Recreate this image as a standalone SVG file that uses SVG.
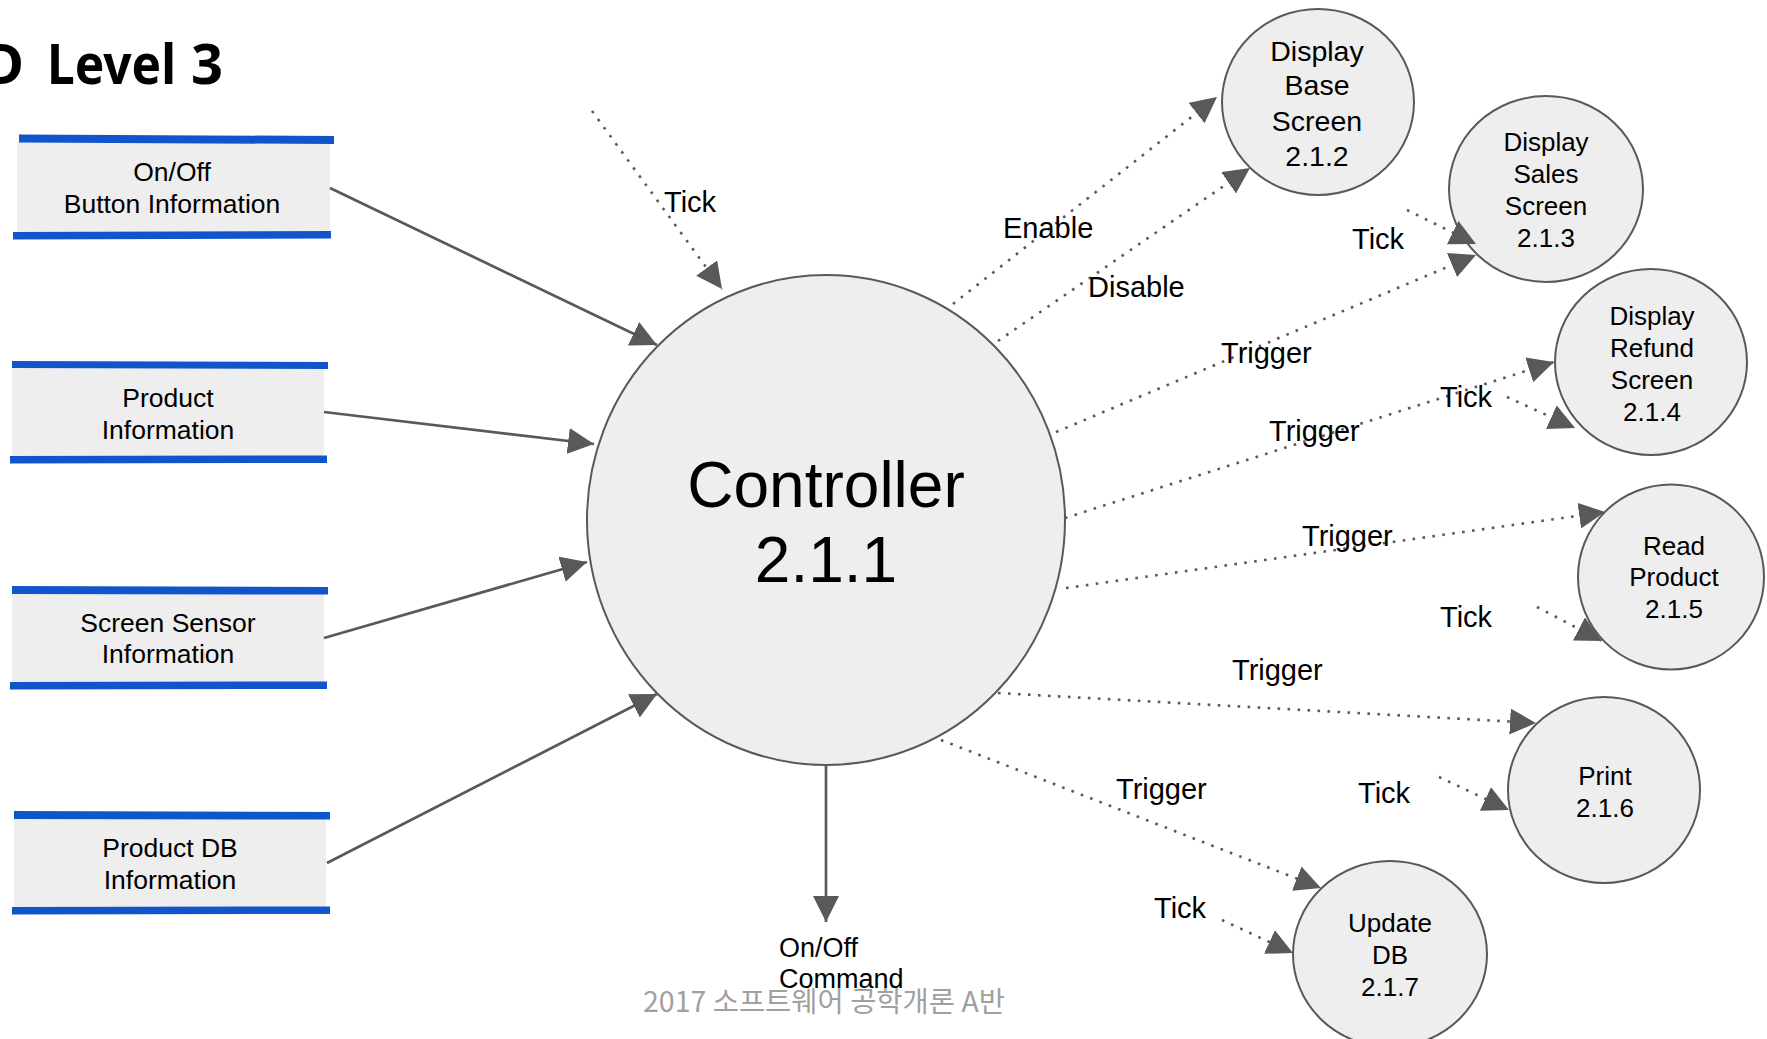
<svg xmlns="http://www.w3.org/2000/svg" width="1767" height="1039" viewBox="0 0 1767 1039">
<style>
text{font-family:"Liberation Sans",Arial,sans-serif;fill:#000}
.title{font-family:"Noto Sans","Noto Sans CJK KR",sans-serif;font-weight:bold;font-size:56px}
.box{fill:#eeeeee}
.bar{fill:#1155cc}
.proc{fill:#eeeeee;stroke:#595959;stroke-width:2}
.mid{text-anchor:middle}
.bt{font-size:26.5px}
.ct{font-size:26px}
.lbl{font-size:29px}
.solid{stroke:#595959;stroke-width:2.7;fill:none}
.dot{stroke:#595959;stroke-width:2.6;fill:none;stroke-dasharray:2.6 7.4}
.foot{font-family:"Noto Sans CJK KR","Liberation Sans",sans-serif;font-size:28.5px;fill:#a0a0a0}
</style>
<defs>
<marker id="ah" markerUnits="userSpaceOnUse" markerWidth="27" markerHeight="27" refX="26" refY="13" orient="auto">
<path d="M0,0 L26,13 L0,26 Z" fill="#595959"/>
</marker>
</defs>
<rect width="1767" height="1039" fill="#ffffff"/>

<g id="title">
<text class="title" x="-17" y="84">D</text>
<text class="title" x="47" y="84" textLength="129" lengthAdjust="spacingAndGlyphs">Level</text>
<text class="title" x="191" y="84">3</text>
</g>

<g id="onoff-button-info">
<rect class="box" x="17" y="142" width="313" height="90"/>
<polygon class="bar" points="19,134.5 334,136 334,144 19,142.5"/>
<polygon class="bar" points="13,232 331,231 331,238.5 13,239.5"/>
<text class="bt mid" x="172" y="181">On/Off</text>
<text class="bt mid" x="172" y="213">Button Information</text>
</g>

<g id="product-info">
<rect class="box" x="12" y="368" width="312" height="88"/>
<polygon class="bar" points="12,361 328,362 328,369 12,368"/>
<polygon class="bar" points="10,456 327,455.5 327,463 10,463.5"/>
<text class="bt mid" x="168" y="407">Product</text>
<text class="bt mid" x="168" y="439">Information</text>
</g>

<g id="screen-sensor-info">
<rect class="box" x="12" y="594" width="312" height="88"/>
<polygon class="bar" points="12,586 328,587 328,594.5 12,594"/>
<polygon class="bar" points="10,682 327,681.5 327,689 10,689.5"/>
<text class="bt mid" x="168" y="632">Screen Sensor</text>
<text class="bt mid" x="168" y="663">Information</text>
</g>

<g id="product-db-info">
<rect class="box" x="14" y="819" width="312" height="88"/>
<polygon class="bar" points="14,811 330,812 330,819.5 14,819"/>
<polygon class="bar" points="12,907 330,906.5 330,914 12,914.5"/>
<text class="bt mid" x="170" y="857">Product DB</text>
<text class="bt mid" x="170" y="889">Information</text>
</g>

<g id="controller">
<ellipse class="proc" cx="826" cy="520" rx="239" ry="245"/>
<text class="mid" x="826" y="507" font-size="64">Controller</text>
<text class="mid" x="826" y="582" font-size="64">2.1.1</text>
</g>

<g id="display-base">
<ellipse class="proc" cx="1318" cy="102" rx="96" ry="93"/>
<text class="mid" x="1317" y="61" font-size="28.5">Display</text>
<text class="mid" x="1317" y="95" font-size="28.5">Base</text>
<text class="mid" x="1317" y="131" font-size="28.5">Screen</text>
<text class="mid" x="1317" y="166" font-size="28.5">2.1.2</text>
</g>

<g id="display-sales">
<ellipse class="proc" cx="1546" cy="189" rx="97" ry="93"/>
<text class="ct mid" x="1546" y="151">Display</text>
<text class="ct mid" x="1546" y="183">Sales</text>
<text class="ct mid" x="1546" y="215">Screen</text>
<text class="ct mid" x="1546" y="247">2.1.3</text>
</g>

<g id="display-refund">
<ellipse class="proc" cx="1651" cy="362" rx="96" ry="93"/>
<text class="ct mid" x="1652" y="325">Display</text>
<text class="ct mid" x="1652" y="357">Refund</text>
<text class="ct mid" x="1652" y="389">Screen</text>
<text class="ct mid" x="1652" y="421">2.1.4</text>
</g>

<g id="read-product">
<ellipse class="proc" cx="1671" cy="577" rx="93" ry="92.5"/>
<text class="ct mid" x="1674" y="555">Read</text>
<text class="ct mid" x="1674" y="586">Product</text>
<text class="ct mid" x="1674" y="618">2.1.5</text>
</g>

<g id="print">
<ellipse class="proc" cx="1604" cy="790" rx="96" ry="93"/>
<text class="ct mid" x="1605" y="785">Print</text>
<text class="ct mid" x="1605" y="817">2.1.6</text>
</g>

<g id="update-db">
<ellipse class="proc" cx="1390" cy="954" rx="97" ry="93"/>
<text class="ct mid" x="1390" y="932">Update</text>
<text class="ct mid" x="1390" y="964">DB</text>
<text class="ct mid" x="1390" y="996">2.1.7</text>
</g>

<g id="connectors">
<line class="solid" x1="330" y1="188" x2="657" y2="345" marker-end="url(#ah)"/>
<line class="solid" x1="324" y1="412" x2="594" y2="444" marker-end="url(#ah)"/>
<line class="solid" x1="324" y1="638" x2="587" y2="562" marker-end="url(#ah)"/>
<line class="solid" x1="327" y1="863" x2="657" y2="694" marker-end="url(#ah)"/>
<line class="solid" x1="826" y1="765" x2="826" y2="922" marker-end="url(#ah)"/>
<line class="dot" x1="592" y1="111" x2="722" y2="289" marker-end="url(#ah)"/>
<line class="dot" x1="953" y1="304" x2="1217" y2="97" marker-end="url(#ah)"/>
<line class="dot" x1="998" y1="341" x2="1250" y2="168" marker-end="url(#ah)"/>
<line class="dot" x1="1407" y1="210" x2="1476" y2="244" marker-end="url(#ah)"/>
<line class="dot" x1="1056" y1="432" x2="1476" y2="255" marker-end="url(#ah)"/>
<line class="dot" x1="1065" y1="518" x2="1554" y2="362" marker-end="url(#ah)"/>
<line class="dot" x1="1507" y1="397" x2="1575" y2="428" marker-end="url(#ah)"/>
<line class="dot" x1="1066" y1="588" x2="1605" y2="512" marker-end="url(#ah)"/>
<line class="dot" x1="1537" y1="607" x2="1602" y2="641" marker-end="url(#ah)"/>
<line class="dot" x1="998" y1="693" x2="1536" y2="723" marker-end="url(#ah)"/>
<line class="dot" x1="1439" y1="777" x2="1509" y2="810" marker-end="url(#ah)"/>
<line class="dot" x1="941" y1="740" x2="1321" y2="888" marker-end="url(#ah)"/>
<line class="dot" x1="1222" y1="920" x2="1293" y2="953" marker-end="url(#ah)"/>
<text class="lbl" x="664" y="212">Tick</text>
<text class="lbl" x="1003" y="238">Enable</text>
<text class="lbl" x="1088" y="297">Disable</text>
<text class="lbl" x="1352" y="249">Tick</text>
<text class="lbl" x="1221" y="363">Trigger</text>
<text class="lbl" x="1269" y="441">Trigger</text>
<text class="lbl" x="1440" y="407">Tick</text>
<text class="lbl" x="1302" y="546">Trigger</text>
<text class="lbl" x="1440" y="627">Tick</text>
<text class="lbl" x="1232" y="680">Trigger</text>
<text class="lbl" x="1358" y="803">Tick</text>
<text class="lbl" x="1116" y="799">Trigger</text>
<text class="lbl" x="1154" y="918">Tick</text>
<text x="779" y="957" font-size="27">On/Off</text>
<text x="779" y="988" font-size="27">Command</text>
</g>

<text class="foot mid" x="824" y="1012">2017 소프트웨어 공학개론 A반</text>
</svg>
